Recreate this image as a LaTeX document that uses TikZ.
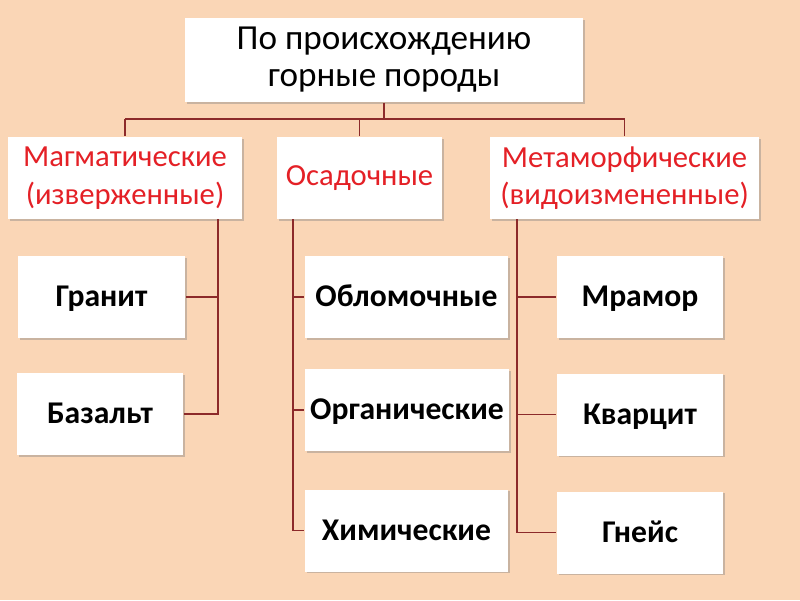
\documentclass[tikz,border=0pt]{standalone}
\usepackage{fontspec}
\setmainfont{Carlito}
\usetikzlibrary{shadows}

\definecolor{peach}{RGB}{250,214,182}
\definecolor{linered}{RGB}{140,42,42}
\definecolor{titlered}{RGB}{228,32,38}

\begin{document}
\begin{tikzpicture}[x=0.025cm,y=-0.025cm,line width=1.1pt,
	box/.style={rectangle,fill=white,inner sep=0pt,minimum height=2.05cm,align=center,
		drop shadow={opacity=0.4,shadow xshift=1.2pt,shadow yshift=-1.2pt}},
	head/.style={box,font=\fontsize{25}{26.2}\selectfont},
	group/.style={box,text=titlered,font=\fontsize{21.8}{26.5}\selectfont},
	rock/.style={box,font=\fontsize{22.5}{25}\selectfont\bfseries,text height=14.2pt,text depth=0pt},
	link/.style={draw=linered}]

	\fill[peach] (0,0) rectangle (800,600);
	\useasboundingbox (0,0) rectangle (800,600);

	\node[head,minimum width=9.95cm,minimum height=2.1cm] (t) at (384,60) {По происхождению\\горные породы};

	\node[group,minimum width=5.85cm] (m) at (125,178) {Магматические\\(изверженные)};
	\node[group,minimum width=4.125cm] (o) at (359.5,178) {Осадочные};
	\node[group,minimum width=6.725cm] (mf) at (624.5,178) {Метаморфические\\(видоизмененные)};

	\node[rock,minimum width=4.175cm] (g) at (101.5,297) {Гранит};
	\node[rock,minimum width=4.15cm] (b) at (100,414) {Базальт};

	\node[rock,minimum width=5.075cm] (ob) at (406.5,297) {Обломочные};
	\node[rock,minimum width=5.1cm] (org) at (407,410) {Органические};
	\node[rock,minimum width=5.075cm] (ch) at (406.5,530.5) {Химические};

	\node[rock,minimum width=4.15cm] (mr) at (640,297) {Мрамор};
	\node[rock,minimum width=4.15cm] (kv) at (640,414.5) {Кварцит};
	\node[rock,minimum width=4.15cm] (gn) at (640,532.5) {Гнейс};

	\coordinate (bus) at (384,119);
	\coordinate (ma) at (218,219);
	\coordinate (oa) at (293,219);
	\coordinate (mfa) at (517,219);

	\path[link]
	(t.south) edge (bus)
	(m.north) edge (m.north |- bus)
	(mf.north) edge (mf.north |- bus)
	(o.north) edge (o.north |- bus);
	\draw[link] (m.north |- bus) -- (mf.north |- bus);

	\draw[link] (ma) |- (g.east);
	\draw[link] (ma) |- (b.east);
	\draw[link] (oa) |- (ob.west);
	\draw[link] (oa) |- (org.west);
	\draw[link] (oa) |- (ch.west);
	\draw[link] (mfa) |- (mr.west);
	\draw[link] (mfa) |- (kv.west);
	\draw[link] (mfa) |- (gn.west);
\end{tikzpicture}
\end{document}
